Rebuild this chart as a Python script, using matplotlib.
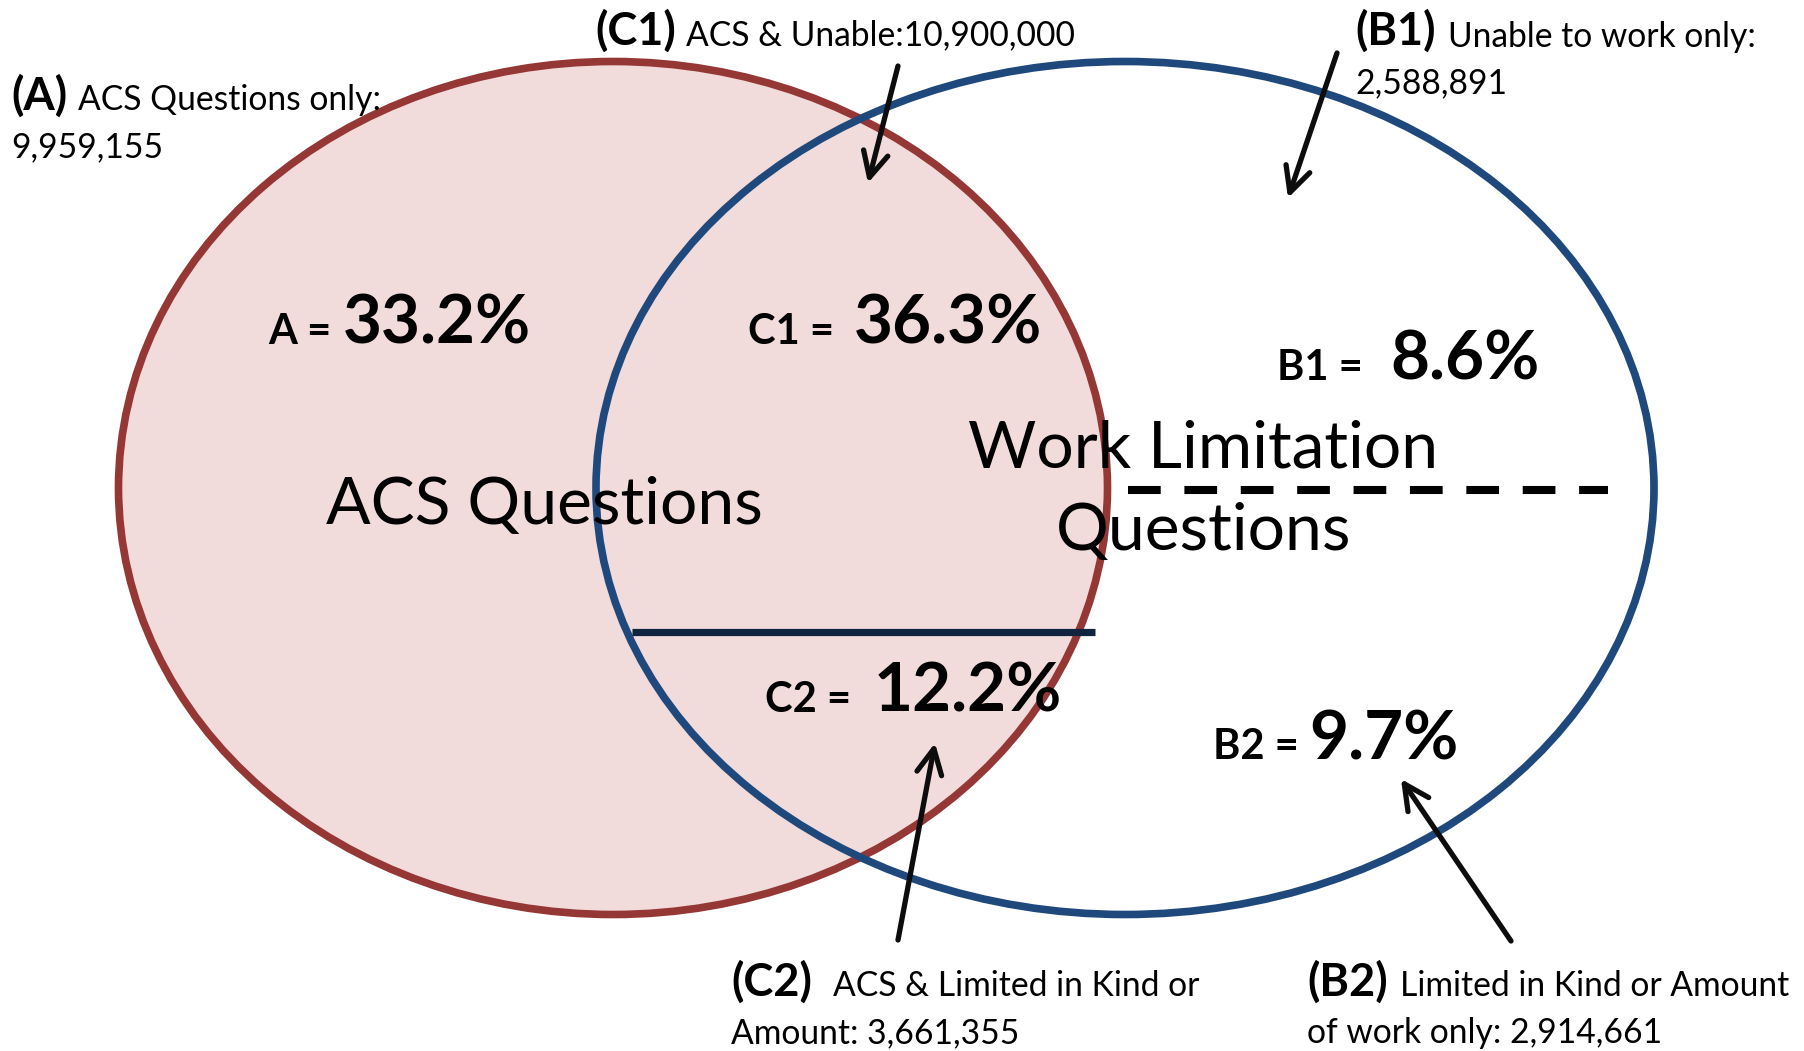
import matplotlib
matplotlib.use('Agg')
import matplotlib.pyplot as plt
import matplotlib.patches as patches

plt.rcParams['font.family'] = ['Lato', 'DejaVu Sans']

# 資料
region_codes = ['A', 'C1', 'B1', 'C2', 'B2']
region_pcts = ['33.2%', '36.3%', '8.6%', '12.2%', '9.7%']
region_desc = ['ACS Questions only:', 'ACS & Unable:', 'Unable to work only:',
               'ACS & Limited in Kind or Amount:', 'Limited in Kind or Amount of work only:']
region_counts = ['9,959,155', '10,900,000', '2,588,891', '3,661,355', '2,914,661']
set_names = ['ACS Questions', 'Work Limitation\nQuestions']

# 版面 (像素座標, y 向下)
W, H = 1804, 1051
red_ell = dict(xy=(613, 488), width=989, height=853)
blue_ell = dict(xy=(1125, 488), width=1058, height=853)

fig = plt.figure(figsize=(W / 100, H / 100), dpi=100)
ax = fig.add_axes([0, 0, 1, 1])
ax.set_xlim(0, W)
ax.set_ylim(H, 0)
ax.axis('off')

red_edge = '#953735'
red_fill = '#F2DCDB'
blue_edge = '#1F497D'

ax.add_patch(patches.Ellipse(**red_ell, facecolor=red_fill, edgecolor='none', zorder=1))
ax.add_patch(patches.Ellipse(**red_ell, facecolor='none', edgecolor=red_edge, linewidth=5.5, zorder=2))
ax.add_patch(patches.Ellipse(**blue_ell, facecolor='none', edgecolor=blue_edge, linewidth=5.5, zorder=3))

# 分隔線
ax.plot([632, 1095], [632, 632], color='#10243F', linewidth=5.2, solid_capstyle='butt', zorder=4)
ax.plot([1128, 1608], [490, 490], color='black', linewidth=5.8,
        linestyle=(0, (4.06, 2.94)), dash_capstyle='butt', zorder=4)

# 集合名稱
big = 47.5
ax.text(544, 524, set_names[0], fontsize=big, ha='center', va='baseline', zorder=5)
wl1, wl2 = set_names[1].split('\n')
ax.text(1203, 468, wl1, fontsize=big, ha='center', va='baseline', zorder=5)
ax.text(1204, 550, wl2, fontsize=big, ha='center', va='baseline', zorder=5)

# 區域百分比
eq_pos = [(268, 344), (748, 344), (1277, 380), (765, 712), (1213, 759)]
pct_x = [343, 854, 1390, 874, 1309]
for code, pct, (ex, ey), px in zip(region_codes, region_pcts, eq_pos, pct_x):
    ax.text(ex, ey, f'{code} =', fontsize=30, fontweight='bold', va='baseline', zorder=5)
    ax.text(px, ey, pct, fontsize=48.5, fontweight='bold', va='baseline', zorder=5)

# 標註文字
lab, sm = 32.5, 24.2
# (A)
ax.text(11, 110, f'({region_codes[0]})', fontsize=lab, fontweight='bold', va='baseline')
ax.text(78, 110, region_desc[0], fontsize=sm, va='baseline')
ax.text(11, 157, region_counts[0], fontsize=sm, va='baseline')
# (C1)
ax.text(595, 45, f'({region_codes[1]})', fontsize=lab, fontweight='bold', va='baseline')
ax.text(686, 45, region_desc[1] + region_counts[1], fontsize=sm, va='baseline')
# (B1)
ax.text(1355, 45, f'({region_codes[2]})', fontsize=lab, fontweight='bold', va='baseline')
ax.text(1448, 47, region_desc[2], fontsize=sm, va='baseline')
ax.text(1355, 93, region_counts[2], fontsize=sm, va='baseline')
# (C2)
c2a, c2b = 'ACS & Limited in Kind or', 'Amount:'
ax.text(731, 996, f'({region_codes[3]})', fontsize=lab, fontweight='bold', va='baseline')
ax.text(833, 996, c2a, fontsize=sm, va='baseline')
ax.text(731, 1043, f'{c2b} {region_counts[3]}', fontsize=sm, va='baseline')
# (B2)
b2a, b2b = 'Limited in Kind or Amount', 'of work only:'
ax.text(1307, 996, f'({region_codes[4]})', fontsize=lab, fontweight='bold', va='baseline')
ax.text(1400, 996, b2a, fontsize=sm, va='baseline')
ax.text(1307, 1043, f'{b2b} {region_counts[4]}', fontsize=sm, va='baseline')

# 箭頭 (起點 -> 箭頭尖)
arrows = [((898, 66), (868, 183)),
          ((1337, 53), (1288, 198)),
          ((898, 940), (935, 743)),
          ((1511, 941), (1401, 779))]
for start, tip in arrows:
    ax.annotate('', xy=tip, xytext=start,
                arrowprops=dict(arrowstyle='->', lw=3.8, color='#0D0D0D',
                                mutation_scale=45, shrinkA=0, shrinkB=0),
                zorder=6)

fig.savefig('out.png', dpi=100)
